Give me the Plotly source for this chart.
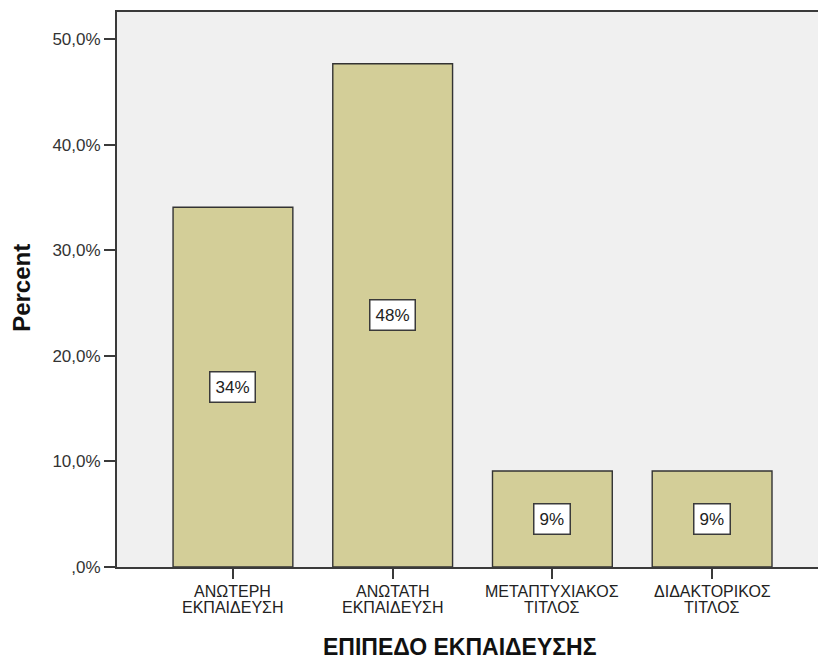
import plotly.graph_objects as go

# Education level distribution (percent of respondents)
categories = ["ΑΝΩΤΕΡΗ ΕΚΠΑΙΔΕΥΣΗ", "ΑΝΩΤΑΤΗ ΕΚΠΑΙΔΕΥΣΗ",
              "ΜΕΤΑΠΤΥΧΙΑΚΟΣ ΤΙΤΛΟΣ", "ΔΙΔΑΚΤΟΡΙΚΟΣ ΤΙΤΛΟΣ"]
label_lines = [["ΑΝΩΤΕΡΗ", "ΕΚΠΑΙΔΕΥΣΗ"],
               ["ΑΝΩΤΑΤΗ", "ΕΚΠΑΙΔΕΥΣΗ"],
               ["ΜΕΤΑΠΤΥΧΙΑΚΟΣ", "ΤΙΤΛΟΣ"],
               ["ΔΙΔΑΚΤΟΡΙΚΟΣ", "ΤΙΤΛΟΣ"]]
percent = [34.1, 47.7, 9.1, 9.1]
y_ticks = [0, 10, 20, 30, 40, 50]
y_tick_text = [",0%", "10,0%", "20,0%", "30,0%", "40,0%", "50,0%"]

FONT = "Liberation Sans, Arial, sans-serif"
AXIS = "#3a3a3a"

xpos = list(range(len(categories)))

fig = go.Figure(go.Bar(
    x=xpos, y=percent, width=0.75,
    marker=dict(color="#D3CE98", line=dict(color="#333333", width=1.4)),
    hoverinfo="skip",
))

annotations = []
# value boxes in the middle of each bar
for i, v in enumerate(percent):
    annotations.append(dict(
        x=i, y=v / 2, xref="x", yref="y", text=f"{round(v)}%",
        showarrow=False, font=dict(family=FONT, size=17, color="#222"),
        bgcolor="white", bordercolor="#3a3a3a", borderwidth=1.5, borderpad=5,
    ))
# two-line category labels under the axis
for i, lines in enumerate(label_lines):
    for k, line in enumerate(lines):
        annotations.append(dict(
            x=i, y=0, xref="x", yref="paper", yanchor="middle",
            yshift=-24 - 16 * k, text=line, showarrow=False,
            font=dict(family=FONT, size=16, color="#222"),
        ))
# axis titles
annotations.append(dict(
    x=0.489, y=0, xref="paper", yref="paper", yanchor="middle", yshift=-80,
    text="<b>ΕΠΙΠΕΔΟ ΕΚΠΑΙΔΕΥΣΗΣ</b>", showarrow=False,
    font=dict(family=FONT, size=23, color="#111"),
))
annotations.append(dict(
    x=0, y=0.503, xref="paper", yref="paper", xanchor="center", xshift=-95,
    text="<b>Percent</b>", textangle=-90, showarrow=False,
    font=dict(family=FONT, size=24, color="#111"),
))

fig.update_layout(
    width=818, height=660,
    margin=dict(l=117, r=0, t=12, b=93),
    paper_bgcolor="white", plot_bgcolor="#F0F0F0",
    showlegend=False, annotations=annotations,
    xaxis=dict(
        range=[-0.726, 3.663], tickvals=xpos, showticklabels=False,
        ticks="outside", ticklen=10, tickwidth=2, tickcolor=AXIS,
        showline=True, linecolor=AXIS, linewidth=2, mirror=True,
        showgrid=False, zeroline=False, fixedrange=True,
    ),
    yaxis=dict(
        range=[0, 52.6], tickvals=y_ticks, ticktext=y_tick_text,
        ticks="outside", ticklen=11, tickwidth=2, tickcolor=AXIS,
        tickfont=dict(family=FONT, size=17, color="#333"),
        showline=True, linecolor=AXIS, linewidth=2,
        showgrid=False, zeroline=False, fixedrange=True,
    ),
)

fig.write_html("out.html")
